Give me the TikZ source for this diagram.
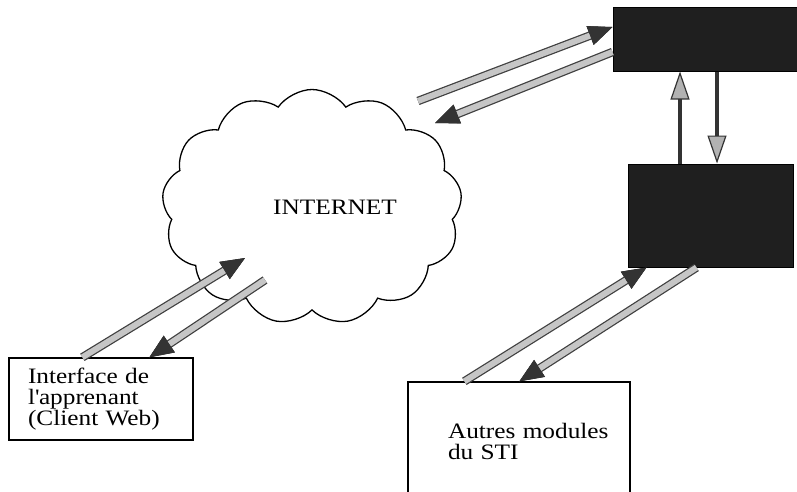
\documentclass[tikz,border=0pt]{standalone}
\usepackage{fontspec}
\setmainfont{Liberation Serif}[FakeStretch=1.15]
\usetikzlibrary{shapes.symbols,arrows.meta}
\tikzset{
  boite/.style={draw=black,line width=1.3pt,fill=white,align=left,
    font=\fontsize{22}{21}\selectfont},
  noire/.style={draw=black,line width=1pt,fill=black!88},
  fleche/.style={line width=6pt,draw=gray!45,
    preaction={draw=black!75,line width=8.5pt},
    -{Triangle[length=24pt,width=20pt,line width=0.8pt,color=black!80]}},
  fine/.style={line width=3.5pt,draw=black!80,
    -{Triangle[length=28pt,width=19pt,line width=1.2pt,fill=gray!60]}}
}
\begin{document}
\begin{tikzpicture}[x=1pt,y=-1pt]
\useasboundingbox[fill=white] (0,0) rectangle (797,491);
% nuage internet
\node[cloud,draw,line width=1.3pt,fill=white,cloud puffs=13,cloud puff arc=110,
  aspect=1.3,minimum width=300pt,minimum height=235pt,
  font=\fontsize{22}{21}\selectfont] (net) at (312,207) {\hspace*{46pt}INTERNET};

% boites
\node[boite,minimum width=184pt,minimum height=82pt,text width=146pt,inner xsep=19pt]
  (iface) at (101,399) {Interface de\\l\textquotesingle apprenant\\(Client Web)};
\node[boite,minimum height=118pt,text width=142pt,inner xsep=40pt]
  (autres) at (519,441) {\mbox{Autres modules}\\du STI};
\node[noire,minimum width=190pt,minimum height=64pt] (boitehaut) at (708,39) {};
\node[noire,minimum width=165pt,minimum height=103pt] (boitebas) at (710.5,215.5) {};

% fleches client <-> internet
\draw[fleche] ([shift={(74,0)}]iface.north west) -- ([shift={(-67,51)}]net.center);
\draw[fleche] ([shift={(-47,73)}]net.center) -- ([shift={(141,0)}]iface.north west);
% internet <-> boite du haut
\draw[fleche] ([shift={(106,-106)}]net.center) -- ([shift={(0,-12)}]boitehaut.west);
\draw[fleche] ([shift={(0,13)}]boitehaut.west) -- ([shift={(123,-84)}]net.center);
% entre les deux boites noires
\draw[fine] ([shift={(-30.5,0)}]boitebas.north) -- ([shift={(-28,0)}]boitehaut.south);
\draw[fine] ([shift={(9,0)}]boitehaut.south) -- ([shift={(6.5,0)}]boitebas.north);
% autres modules <-> boite du bas
\draw[fleche] ([shift={(57,0)}]autres.north west) -- ([shift={(19,0)}]boitebas.south west);
\draw[fleche] ([shift={(69,0)}]boitebas.south west) -- ([shift={(112,0)}]autres.north west);
\end{tikzpicture}
\end{document}
